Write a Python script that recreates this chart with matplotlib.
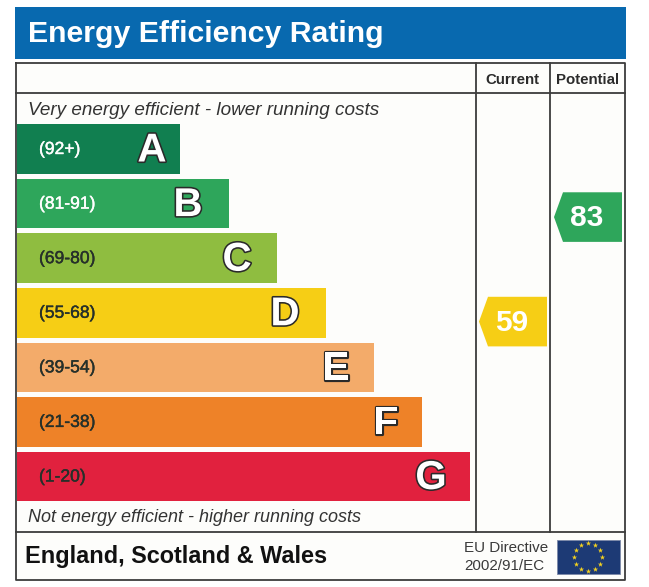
import numpy as np
import matplotlib
matplotlib.use('Agg')
import matplotlib.pyplot as plt
import matplotlib.patheffects as pe
from matplotlib.patches import Rectangle, Polygon

# Data from the certificate
bands = ['A', 'B', 'C', 'D', 'E', 'F', 'G']
ranges = ['(92+)', '(81-91)', '(69-80)', '(55-68)', '(39-54)', '(21-38)', '(1-20)']
range_low = [92, 81, 69, 55, 39, 21, 1]
range_high = [100, 91, 80, 68, 54, 38, 20]
bar_lengths = [163, 212, 260, 309, 357, 405, 453]
current_score = 59
potential_score = 83

band_colors = ['#117F50', '#2EA65B', '#8FBD40', '#F6CE15', '#F3AB6A', '#EE8228', '#E1213E']
range_colors = ['white', 'white', '#26302A', '#26302A', '#26302A', '#26302A', '#26302A']
letter_inset = [28, 41, 40, 41, 38, 36, 39]

plt.rcParams['font.family'] = 'Liberation Sans'

fig = plt.figure(figsize=(6.49, 5.87), dpi=100)
ax = fig.add_axes([0, 0, 1, 1])
ax.set_xlim(0, 649)
ax.set_ylim(587, 0)
ax.axis('off')

# Banner and panel
ax.add_patch(Rectangle((15, 7), 611, 52, facecolor='#0869AF', edgecolor='none'))
ax.add_patch(Rectangle((16, 63), 609, 517, facecolor='#FDFDFB', edgecolor='none'))
ax.text(28, 34, 'Energy Efficiency Rating', color='white', fontsize=21.8, fontweight='bold',
        va='center', ha='left')

line_color = '#3C3C3C'
ax.plot([16, 625, 625, 16, 16], [63, 63, 580, 580, 63], color=line_color, linewidth=1.3)
ax.plot([16, 625], [93, 93], color=line_color, linewidth=1.3)
ax.plot([16, 625], [532, 532], color=line_color, linewidth=1.3)
ax.plot([476, 476], [63, 532], color=line_color, linewidth=1.3)
ax.plot([550, 550], [63, 532], color=line_color, linewidth=1.3)

ax.text(512, 79.5, 'Current', color='#2B2B2B', fontsize=10.8, fontweight='bold', ha='center', va='center')
ax.text(588, 79.5, 'Potential', color='#2B2B2B', fontsize=10.8, fontweight='bold', ha='center', va='center')

ax.text(28, 110.5, 'Very energy efficient - lower running costs', color='#333333',
        fontsize=13.55, style='italic', va='center')
ax.text(28, 518, 'Not energy efficient - higher running costs', color='#333333',
        fontsize=13, style='italic', va='center')

# Rating bars
bar_y = np.linspace(149, 476.5, len(bands))
bar_height = 49.5
ax.barh(bar_y, bar_lengths, left=17, height=bar_height, color=band_colors, edgecolor='none')

for y, length, band, label, col, inset in zip(bar_y, bar_lengths, bands, ranges, range_colors, letter_inset):
    ax.text(39, y + 0.5, label, color=col, fontsize=12.6, va='center', ha='left',
            path_effects=[pe.withStroke(linewidth=0.3, foreground=col)])
    ax.text(17 + length - inset, y + 1.5, band, color='white', fontsize=29, fontweight='bold',
            va='center', ha='center',
            path_effects=[pe.withStroke(linewidth=2.3, foreground='#2A2A2A')])


# Score arrows sit inside their band, scaled by where the score falls in the range
def score_y(score):
    for i in range(len(bands)):
        if range_low[i] <= score <= range_high[i]:
            frac = (range_high[i] - score + 0.5) / (range_high[i] - range_low[i] + 1)
            return bar_y[i] - bar_height / 2 + frac * bar_height
    return bar_y[-1]


def score_arrow(left, score):
    y = score_y(score)
    band = [i for i in range(len(bands)) if range_low[i] <= score <= range_high[i]][0]
    pts = [(left, y), (left + 9, y - 24.8), (left + 68, y - 24.8), (left + 68, y + 24.8), (left + 9, y + 24.8)]
    ax.add_patch(Polygon(pts, closed=True, facecolor=band_colors[band], edgecolor='none'))
    ax.text(left + 33, y + 1, str(score), color='white', fontsize=21.5, fontweight='bold', ha='center', va='center')


score_arrow(479, current_score)
score_arrow(554, potential_score)

# Footer
ax.text(25, 556, 'England, Scotland & Wales', color='#111111', fontsize=16.9, fontweight='bold', va='center')
ax.text(464, 548, 'EU Directive', color='#3A3A3A', fontsize=10.9, va='center')
ax.text(464, 566, '2002/91/EC', color='#3A3A3A', fontsize=10.9, va='center')

# EU flag
ax.add_patch(Rectangle((557, 540), 63, 34, facecolor='#1D3A75', edgecolor='#7C88A8', linewidth=0.6))
angles = np.deg2rad(np.arange(0, 360, 30))
ax.scatter(588 + 14 * np.cos(angles), 557 + 14 * np.sin(angles), marker='*', s=16,
           color='#F4D21F', linewidths=0)

plt.savefig('out.png', dpi=100)
